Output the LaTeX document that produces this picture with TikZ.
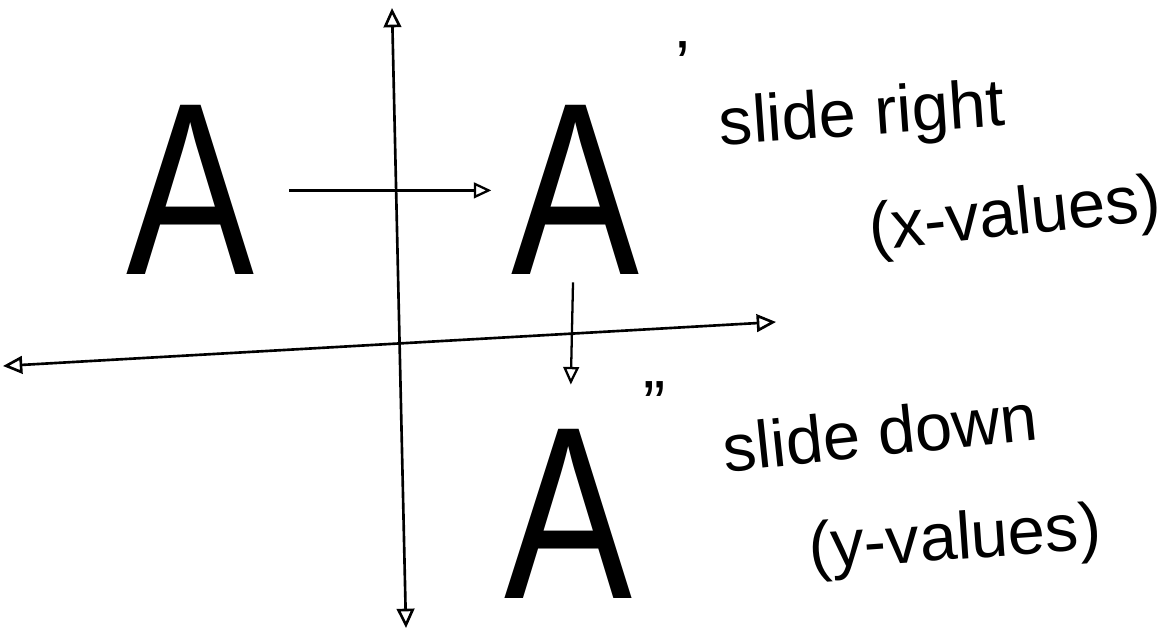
\documentclass[tikz,border=0pt]{standalone}
\usepackage{fontspec}
\setmainfont{Liberation Sans}
\usetikzlibrary{positioning,arrows.meta}
\newcommand{\figA}{\scalebox{0.78}[1]{A}}

\begin{document}
\begin{tikzpicture}[x=0.02cm,y=-0.02cm,
  axis/.style={line width=1.5pt,{Triangle[open,length=11pt,width=10pt]}-{Triangle[open,length=11pt,width=10pt]}},
  slide/.style={line width=1.3pt,-{Triangle[open,length=10pt,width=9pt]}},
  letter/.style={font=\fontsize{140}{140}\selectfont,inner sep=0pt},
  note/.style={font=\fontsize{38}{44}\selectfont,inner sep=0pt}]
\useasboundingbox (0,0) rectangle (1168,634);
% axes
\coordinate (ytop) at (392,8);
\coordinate (ybot) at (406,628);
\coordinate (xleft) at (3,366);
\coordinate (xright) at (776,322);
\draw[axis] (ybot) -- (ytop);
\draw[axis] (xleft) -- (xright);
% the figure and its two images
\node[letter,anchor=base] (A) at (190,275) {\figA};
\node[letter,anchor=base] (A1) at (575,275) {\figA};
\node[letter,anchor=base] (A2) at (568,598) {\figA};
\node[note] (p1) at (683,65) {'};
\node[note] (p2) at (655,405) {''};
\draw[slide,shorten <=20pt,shorten >=11pt] (A) -- (A1);
\draw[slide,shorten <=4pt,shorten >=25pt] (A1) -- (A2);
% notes
\node[note,rotate=4] (right) at (862,118) {slide right};
\node[note,rotate=6] (xval) at (1015,218) {(x-values)};
\node[note,rotate=6] (down) at (880,432) {slide down};
\node[note,rotate=4] (yval) at (955,542) {(y-values)};
\end{tikzpicture}
\end{document}
